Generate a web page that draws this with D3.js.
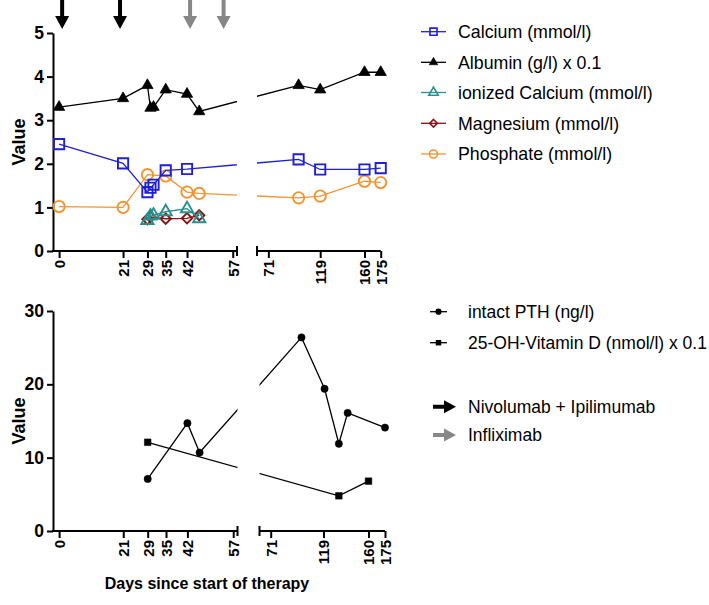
<!DOCTYPE html>
<html><head><meta charset="utf-8">
<script src="https://cdn.jsdelivr.net/npm/d3@7/dist/d3.min.js"></script>
<style>body{margin:0;background:#fff}svg{display:block}</style>
</head><body>
<svg id="c" width="709" height="605"></svg>
<script>
// ---------- data ----------
const xTickValues = [0, 21, 29, 35, 42, 57, 71, 119, 160, 175];
const yTopTicks = [0, 1, 2, 3, 4, 5];
const yBotTicks = [0, 10, 20, 30];

const daysCalcium = [0, 21, 29, 30, 31, 35, 42, 99, 119, 160, 175];
const calcium     = [2.45, 2.01, 1.35, 1.45, 1.52, 1.85, 1.88, 2.1, 1.87, 1.87, 1.9];
const daysAlbumin = [0, 21, 29, 30, 31, 35, 42, 46, 99, 119, 160, 175];
const albumin     = [3.3, 3.5, 3.8, 3.28, 3.3, 3.7, 3.6, 3.2, 3.8, 3.7, 4.1, 4.1];
const daysIonCa   = [29, 30, 31, 35, 42, 46];
const ionCalcium  = [0.7, 0.8, 0.82, 0.9, 0.97, 0.74];
const daysMg      = [29, 30, 35, 42, 46];
const magnesium   = [0.73, 0.78, 0.74, 0.75, 0.82];
const daysPhos    = [0, 21, 29, 35, 42, 46, 99, 119, 160, 175];
const phosphate   = [1.02, 1.0, 1.75, 1.72, 1.35, 1.32, 1.22, 1.26, 1.6, 1.57];

const daysPTH     = [29, 42, 46, 99, 120, 133, 141, 175];
const pth         = [7.1, 14.7, 10.7, 26.4, 19.4, 11.9, 16.1, 14.1];
const daysVitD    = [29, 133, 160];
const vitD        = [12.1, 4.8, 6.8];

const nivoDays = [1, 20];
const inflixDays = [43, 54];

const topLabels = ["Calcium (mmol/l)", "Albumin (g/l) x 0.1", "ionized Calcium (mmol/l)", "Magnesium (mmol/l)", "Phosphate (mmol/l)"];
const botLabels = ["intact PTH (ng/l)", "25-OH-Vitamin D (nmol/l) x 0.1"];
const arrowLabels = ["Nivolumab + Ipilimumab", "Infliximab"];
const xTitle = "Days since start of therapy";
const yTitle = "Value";

// ---------- setup ----------
const svg = d3.select('#c');
const FONT = "'Liberation Sans', Arial, Helvetica, sans-serif";
const C_BLUE = "#1f1fd6", C_BLACK = "#000", C_TEAL = "#2a8f8f", C_RED = "#8b1010", C_ORANGE = "#f39431", C_GRAY = "#878787";

const xTop = d3.scaleLinear().domain([-2, 58.4, 60.5, 175]).range([53, 237, 257, 380.7]);
const xBot = d3.scaleLinear().domain([-2, 58.4, 60.8, 175]).range([53, 237.5, 259.5, 385]);
const yTop = d3.scaleLinear().domain([0, 5]).range([251, 33]);
const yBot = d3.scaleLinear().domain([0, 30]).range([531, 311]);

const defs = svg.append('defs');
function makeClip(id, x, y0, y1) {
  const cp = defs.append('clipPath').attr('id', id);
  cp.append('rect').attr('x', 40).attr('y', y0).attr('width', x(58.4) - 40).attr('height', y1 - y0);
  cp.append('rect').attr('x', x.range()[2]).attr('y', y0).attr('width', x.range()[3] - x.range()[2] + 3).attr('height', y1 - y0);
}
makeClip('clipTop', xTop, 20, 260);
makeClip('clipBot', xBot, 290, 540);

function sym(type, size) { return d3.symbol().type(type).size(size)(); }
const diamondPath = (s) => { const h = s; return `M0,${-h}L${h},0L0,${h}L${-h},0Z`; };

function drawAxes(x, y, yTicks, y0) {
  const gy = svg.append('g').attr('transform', `translate(${x.range()[0]},0)`)
    .call(d3.axisLeft(y).tickValues(yTicks).tickSize(6).tickSizeOuter(0).tickFormat(d3.format('d')));
  gy.select('.domain').attr('stroke-width', 2).attr('stroke', '#000');
  gy.selectAll('.tick line').attr('stroke-width', 2).attr('stroke', '#000');
  gy.selectAll('.tick text').attr('x', -9).attr('font-family', FONT).attr('font-weight', 'bold').attr('font-size', 17.5).attr('fill', '#000');
  const r = x.range();
  const g = svg.append('g');
  g.append('line').attr('x1', r[0] - 1).attr('x2', r[1]).attr('y1', y0).attr('y2', y0).attr('stroke', '#000').attr('stroke-width', 2);
  g.append('line').attr('x1', r[2]).attr('x2', r[3]).attr('y1', y0).attr('y2', y0).attr('stroke', '#000').attr('stroke-width', 2);
  g.append('line').attr('x1', r[1]).attr('x2', r[1]).attr('y1', y0 - 5).attr('y2', y0 + 5).attr('stroke', '#000').attr('stroke-width', 2);
  g.append('line').attr('x1', r[2]).attr('x2', r[2]).attr('y1', y0 - 5).attr('y2', y0 + 5).attr('stroke', '#000').attr('stroke-width', 2);
  const gx = svg.append('g').attr('transform', `translate(0,${y0})`)
    .call(d3.axisBottom(x).tickValues(xTickValues).tickSize(7).tickSizeOuter(0).tickFormat(d3.format('d')));
  gx.select('.domain').remove();
  gx.selectAll('.tick line').attr('stroke-width', 2).attr('stroke', '#000');
  gx.selectAll('.tick text').attr('transform', 'rotate(-90)').attr('text-anchor', 'end')
    .attr('x', -9).attr('y', 0).attr('dy', '0.36em')
    .attr('font-family', FONT).attr('font-weight', 'bold').attr('font-size', 15).attr('fill', '#000');
  const cy = (y.range()[0] + y.range()[1]) / 2;
  svg.append('text').attr('transform', `translate(25,${cy}) rotate(-90)`).attr('text-anchor', 'middle')
    .attr('font-family', FONT).attr('font-weight', 'bold').attr('font-size', 18).text(yTitle);
}

function series(x, y, days, vals, clip, color, marker, fill, strokeW) {
  const data = days.map((d, i) => ({ d, v: vals[i] }));
  svg.append('path').datum(data)
    .attr('d', d3.line().x(p => x(p.d)).y(p => y(p.v)))
    .attr('fill', 'none').attr('stroke', color).attr('stroke-width', 1.3)
    .attr('clip-path', `url(#${clip})`);
  svg.append('g').selectAll('path').data(data).join('path')
    .attr('transform', p => `translate(${x(p.d)},${y(p.v)})`)
    .attr('d', marker)
    .attr('fill', fill).attr('stroke', color).attr('stroke-width', strokeW);
}

// ---------- top panel ----------
drawAxes(xTop, yTop, yTopTicks, 251);
series(xTop, yTop, daysAlbumin, albumin, 'clipTop', C_BLACK, sym(d3.symbolTriangle, 55), C_BLACK, 0.8);
series(xTop, yTop, daysPhos, phosphate, 'clipTop', C_ORANGE, sym(d3.symbolCircle, 100), 'none', 1.9);
series(xTop, yTop, daysCalcium, calcium, 'clipTop', C_BLUE, sym(d3.symbolSquare, 105), 'none', 1.9);
series(xTop, yTop, daysMg, magnesium, 'clipTop', C_RED, diamondPath(5.2), 'none', 1.9);
series(xTop, yTop, daysIonCa, ionCalcium, 'clipTop', C_TEAL, sym(d3.symbolTriangle, 65), 'none', 1.9);

// ---------- bottom panel ----------
drawAxes(xBot, yBot, yBotTicks, 531);
series(xBot, yBot, daysPTH, pth, 'clipBot', C_BLACK, sym(d3.symbolCircle, 42), C_BLACK, 0.5);
series(xBot, yBot, daysVitD, vitD, 'clipBot', C_BLACK, sym(d3.symbolSquare, 44), C_BLACK, 0.5);

svg.append('text').attr('x', 207).attr('y', 589).attr('text-anchor', 'middle')
  .attr('font-family', FONT).attr('font-weight', 'bold').attr('font-size', 16).text(xTitle);

// ---------- treatment arrows ----------
function downArrow(cx, tip) {
  const sw = 2, hw = 7, hl = 13;
  return `M${cx - sw},0L${cx + sw},0L${cx + sw},${tip - hl}L${cx + hw},${tip - hl}L${cx},${tip}L${cx - hw},${tip - hl}L${cx - sw},${tip - hl}Z`;
}
function rightArrow(x0, x1, cy) {
  const sw = 2, hw = 6.5, hl = 12;
  return `M${x0},${cy - sw}L${x1 - hl},${cy - sw}L${x1 - hl},${cy - hw}L${x1},${cy}L${x1 - hl},${cy + hw}L${x1 - hl},${cy + sw}L${x0},${cy + sw}Z`;
}
svg.append('g').selectAll('path').data(nivoDays).join('path').attr('d', d => downArrow(xTop(d), 29)).attr('fill', '#000');
svg.append('g').selectAll('path').data(inflixDays).join('path').attr('d', d => downArrow(xTop(d), 29)).attr('fill', C_GRAY);

// ---------- legends ----------
const topRows = [31.7, 62.3, 92.5, 123.3, 154];
const topDefs = [
  { c: C_BLUE, m: sym(d3.symbolSquare, 50), f: 'none', w: 1.6 },
  { c: C_BLACK, m: sym(d3.symbolTriangle, 32), f: C_BLACK, w: 0.6 },
  { c: C_TEAL, m: sym(d3.symbolTriangle, 38), f: 'none', w: 1.6 },
  { c: C_RED, m: diamondPath(3.8), f: 'none', w: 1.6 },
  { c: C_ORANGE, m: sym(d3.symbolCircle, 50), f: 'none', w: 1.6 }
];
const lgTop = svg.append('g');
topLabels.forEach((t, i) => {
  const y = topRows[i], d = topDefs[i];
  lgTop.append('line').attr('x1', 421).attr('x2', 446).attr('y1', y).attr('y2', y).attr('stroke', d.c).attr('stroke-width', 1.3);
  lgTop.append('path').attr('transform', `translate(433.5,${y})`).attr('d', d.m).attr('fill', d.f).attr('stroke', d.c).attr('stroke-width', d.w);
  lgTop.append('text').attr('x', 458).attr('y', y).attr('dy', '0.35em').attr('font-family', FONT).attr('font-size', 17.8).text(t);
});

const botRows = [311.7, 342.7];
const botMarkers = [sym(d3.symbolCircle, 30), sym(d3.symbolSquare, 30)];
const lgBot = svg.append('g');
botLabels.forEach((t, i) => {
  const y = botRows[i];
  lgBot.append('line').attr('x1', 430).attr('x2', 447).attr('y1', y).attr('y2', y).attr('stroke', '#000').attr('stroke-width', 1.3);
  lgBot.append('path').attr('transform', `translate(438.5,${y})`).attr('d', botMarkers[i]).attr('fill', '#000');
  lgBot.append('text').attr('x', 468).attr('y', y).attr('dy', '0.35em').attr('font-family', FONT).attr('font-size', 17.5).text(t);
});
const arrowRows = [406.7, 435];
const arrowColors = ['#000', C_GRAY];
arrowLabels.forEach((t, i) => {
  const y = arrowRows[i];
  lgBot.append('path').attr('d', rightArrow(433, 456, y)).attr('fill', arrowColors[i]);
  lgBot.append('text').attr('x', 468).attr('y', y).attr('dy', '0.35em').attr('font-family', FONT).attr('font-size', 17.5).text(t);
});
</script>
</body></html>
